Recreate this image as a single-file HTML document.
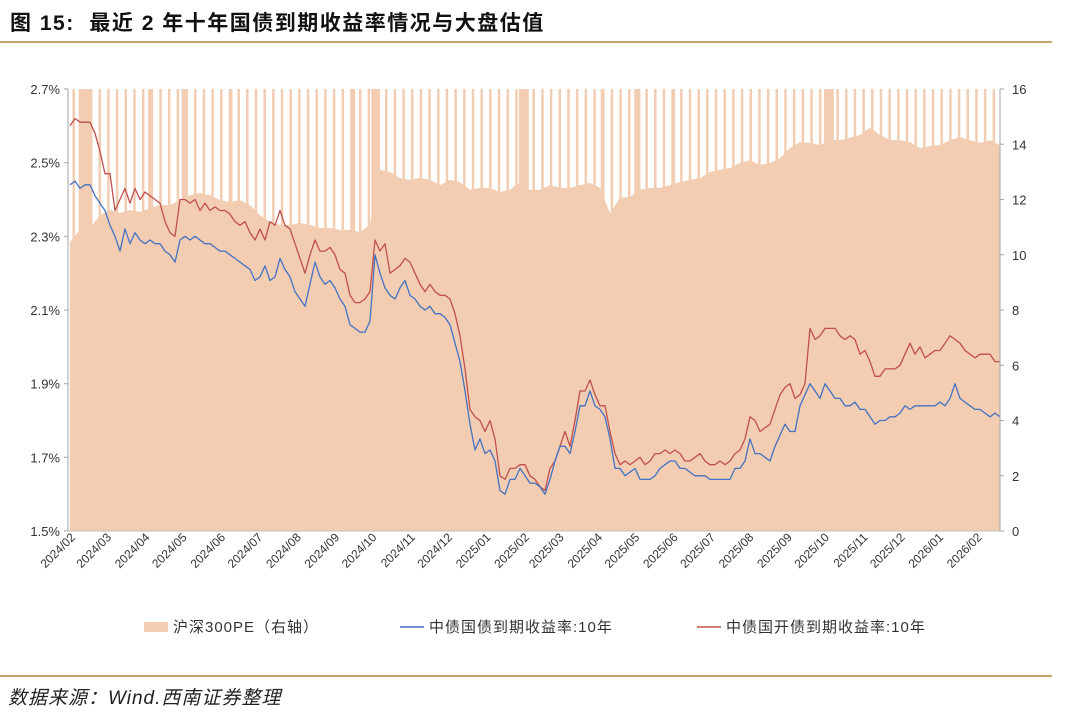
<!DOCTYPE html>
<html><head><meta charset="utf-8">
<style>
body{margin:0;background:#fff;width:1080px;height:715px;overflow:hidden;font-family:"Liberation Sans","Noto Sans CJK SC",sans-serif;}
.title{position:absolute;left:10px;top:7px;font-size:21px;letter-spacing:1.5px;font-weight:bold;color:#111;}
.rule{position:absolute;left:0;width:1052px;height:2px;background:#c9a46a;}
.src{position:absolute;left:8px;top:683px;font-size:19px;letter-spacing:1px;font-style:italic;color:#222;}
svg{position:absolute;left:0;top:0;}
</style></head><body>
<div class="title">图 15:&nbsp; 最近 2 年十年国债到期收益率情况与大盘估值</div>
<div class="rule" style="top:41px"></div>
<svg id="chart" width="1080" height="715"></svg>
<div class="rule" style="top:675px"></div>
<div class="src">数据来源：Wind.西南证券整理</div>
<script>
const startDate = "2024-02-01";
const endDate = "2026-02-20";
const monthLabels = ["2024/02","2024/03","2024/04","2024/05","2024/06","2024/07","2024/08","2024/09","2024/10","2024/11","2024/12","2025/01","2025/02","2025/03","2025/04","2025/05","2025/06","2025/07","2025/08","2025/09","2025/10","2025/11","2025/12","2026/01","2026/02"];
const leftTicks = [1.5,1.7,1.9,2.1,2.3,2.5,2.7];
const rightTicks = [0,2,4,6,8,10,12,14,16];
const holidays = [["2024-02-08","2024-02-18"],["2024-04-04","2024-04-07"],["2024-05-01","2024-05-05"],["2024-06-08","2024-06-10"],["2024-09-15","2024-09-17"],["2024-10-01","2024-10-07"],["2025-01-28","2025-02-04"],["2025-04-04","2025-04-06"],["2025-05-01","2025-05-05"],["2025-05-31","2025-06-02"],["2025-10-01","2025-10-08"]];
const peValues = [10.46,10.9,10.97,11.44,11.62,11.51,11.62,11.55,11.69,11.8,11.8,11.98,12.16,12.24,12.16,11.98,11.91,11.98,11.8,11.44,11.19,11.08,11.08,11.15,11.08,10.97,10.97,10.9,10.9,10.82,11.08,13.07,13.0,12.78,12.71,12.78,12.71,12.52,12.71,12.63,12.35,12.42,12.42,12.27,12.35,12.63,12.35,12.35,12.52,12.42,12.42,12.52,12.6,12.42,11.5,12.07,12.09,12.35,12.42,12.42,12.52,12.63,12.71,12.78,13.0,13.07,13.14,13.32,13.43,13.25,13.32,13.5,13.86,14.08,14.05,13.97,14.15,14.15,14.23,14.34,14.6,14.34,14.15,14.15,14.08,13.86,13.94,13.97,14.15,14.26,14.15,14.05,14.15,13.97];
const cgbYield = [2.44,2.45,2.43,2.44,2.44,2.41,2.39,2.37,2.33,2.30,2.26,2.32,2.28,2.31,2.29,2.28,2.29,2.28,2.28,2.26,2.25,2.23,2.29,2.30,2.29,2.30,2.29,2.28,2.28,2.27,2.26,2.26,2.25,2.24,2.23,2.22,2.21,2.18,2.19,2.22,2.18,2.19,2.24,2.21,2.19,2.15,2.13,2.11,2.17,2.23,2.19,2.17,2.18,2.16,2.13,2.11,2.06,2.05,2.04,2.04,2.07,2.25,2.20,2.16,2.14,2.13,2.16,2.18,2.14,2.13,2.11,2.10,2.11,2.09,2.09,2.08,2.06,2.01,1.96,1.88,1.79,1.72,1.75,1.71,1.72,1.69,1.61,1.60,1.64,1.64,1.67,1.65,1.63,1.63,1.62,1.60,1.64,1.69,1.73,1.73,1.71,1.77,1.84,1.84,1.88,1.84,1.83,1.81,1.75,1.67,1.67,1.65,1.66,1.67,1.64,1.64,1.64,1.65,1.67,1.68,1.69,1.69,1.67,1.67,1.66,1.65,1.65,1.65,1.64,1.64,1.64,1.64,1.64,1.67,1.67,1.69,1.75,1.71,1.71,1.70,1.69,1.73,1.76,1.79,1.77,1.77,1.84,1.87,1.90,1.88,1.86,1.90,1.88,1.86,1.86,1.84,1.84,1.85,1.83,1.83,1.81,1.79,1.80,1.80,1.81,1.81,1.82,1.84,1.83,1.84,1.84,1.84,1.84,1.84,1.85,1.84,1.86,1.90,1.86,1.85,1.84,1.83,1.83,1.82,1.81,1.82,1.81];
const cdbYield = [2.60,2.62,2.61,2.61,2.61,2.58,2.53,2.47,2.47,2.37,2.40,2.43,2.39,2.43,2.40,2.42,2.41,2.40,2.39,2.34,2.31,2.30,2.40,2.40,2.39,2.40,2.37,2.39,2.37,2.38,2.37,2.37,2.36,2.34,2.33,2.34,2.31,2.29,2.32,2.29,2.34,2.33,2.37,2.33,2.32,2.28,2.24,2.20,2.25,2.29,2.26,2.26,2.27,2.25,2.21,2.20,2.14,2.12,2.12,2.13,2.15,2.29,2.26,2.28,2.20,2.21,2.22,2.24,2.23,2.20,2.17,2.15,2.17,2.15,2.14,2.14,2.13,2.09,2.03,1.94,1.83,1.81,1.80,1.77,1.80,1.75,1.65,1.64,1.67,1.67,1.68,1.68,1.65,1.64,1.62,1.61,1.67,1.69,1.73,1.77,1.73,1.80,1.88,1.88,1.91,1.87,1.84,1.84,1.77,1.71,1.68,1.69,1.68,1.69,1.70,1.68,1.69,1.71,1.71,1.72,1.71,1.72,1.71,1.69,1.69,1.70,1.71,1.69,1.68,1.68,1.69,1.68,1.69,1.71,1.72,1.75,1.81,1.80,1.77,1.78,1.79,1.83,1.87,1.89,1.90,1.86,1.87,1.90,2.05,2.02,2.03,2.05,2.05,2.05,2.03,2.02,2.03,2.02,1.98,1.99,1.96,1.92,1.92,1.94,1.94,1.94,1.95,1.98,2.01,1.98,2.00,1.97,1.98,1.99,1.99,2.01,2.03,2.02,2.01,1.99,1.98,1.97,1.98,1.98,1.98,1.96,1.96];

const NS="http://www.w3.org/2000/svg";
const svg=document.getElementById('chart');
const X0=70,X1=1000,YT=89,YB=531,AXL=68,AXR=1000;
const PEACH="#f2cdb1";
const DAY=86400000;
const d0=Date.parse(startDate), d1=Date.parse(endDate);
function xDate(s){return X0+(Date.parse(s)-d0)/(d1-d0)*(X1-X0);}
function xIdx(i,n){return X0+i*(X1-X0)/(n-1);}
function yL(v){return YB-(v-1.5)/1.2*(YB-YT);}
function yR(v){return YB-v/16*(YB-YT);}
function mk(tag,attrs){const e=document.createElementNS(NS,tag);for(const k in attrs)e.setAttribute(k,attrs[k]);svg.appendChild(e);return e;}

const gSp=document.createElementNS(NS,'g');svg.appendChild(gSp);


const pxDay=(X1-X0)/((d1-d0)/DAY);
for(let t=d0;t<=d1;t+=DAY){
  const wd=new Date(t).getUTCDay();
  if(wd===6){
    const r=document.createElementNS(NS,'rect');
    const x=X0+(t-d0)/DAY*pxDay;
    r.setAttribute('x',x);r.setAttribute('y',YT);r.setAttribute('width',Math.min(2*pxDay,X1-x));r.setAttribute('height',YB-YT);r.setAttribute('fill',PEACH);
    
    
    gSp.appendChild(r);
  }
}
holidays.forEach(h=>{
  const r=document.createElementNS(NS,'rect');
  const a=xDate(h[0]),b=xDate(h[1])+pxDay;
  r.setAttribute('x',a);r.setAttribute('y',YT);r.setAttribute('width',b-a);r.setAttribute('height',YB-YT);r.setAttribute('fill',PEACH);
  
  
  gSp.appendChild(r);
});

let d='M'+X0+','+YB;
peValues.forEach((v,i)=>{d+=' L'+xIdx(i,peValues.length).toFixed(1)+','+yR(v).toFixed(1);});
d+=' L'+X1+','+YB+' Z';
const area=mk('path',{d:d,fill:PEACH});



function line(arr,color,name){
  let p='';arr.forEach((v,i)=>{p+=(i?' L':'M')+xIdx(i,arr.length).toFixed(1)+','+yL(v).toFixed(1);});
  const e=mk('path',{d:p,fill:'none',stroke:color,'stroke-width':1.3,'stroke-linejoin':'round'});
  
  
}
line(cdbYield,'#c0504d','cdb-yield-line');
line(cgbYield,'#4472c4','cgb-yield-line');

const la=mk('line',{x1:AXL,y1:YT,x2:AXL,y2:YB,stroke:'#a6a6a6','stroke-width':1});


const ra=mk('line',{x1:AXR,y1:YT,x2:AXR,y2:YB,stroke:'#a6a6a6','stroke-width':1});


const ba=mk('line',{x1:AXL,y1:YB,x2:AXR,y2:YB,stroke:'#bfbfbf','stroke-width':1});


leftTicks.forEach(v=>{
  const y=yL(v);
  mk('line',{x1:AXL-4,y1:y,x2:AXL,y2:y,stroke:'#a6a6a6'});
  const t=mk('text',{x:AXL-8,y:y+5,'text-anchor':'end','font-size':13,fill:'#333'});
  t.textContent=v.toFixed(1)+'%';
  
  
});
rightTicks.forEach(v=>{
  const y=yR(v);
  mk('line',{x1:AXR,y1:y,x2:AXR+4,y2:y,stroke:'#a6a6a6'});
  const t=mk('text',{x:AXR+12,y:y+5,'text-anchor':'start','font-size':13,fill:'#333'});
  t.textContent=v;
  
  
});
monthLabels.forEach(m=>{
  const x=xDate(m.replace('/','-')+'-01')+6;
  const t=mk('text',{x:x,y:538,'text-anchor':'end','font-size':12,fill:'#333',transform:'rotate(-45 '+x+' 538)'});
  t.textContent=m;
  
  
});

const l1=mk('rect',{x:144,y:622,width:24,height:10,fill:PEACH});


const t1=mk('text',{x:173,y:632,'font-size':15,'letter-spacing':1,fill:'#333'});t1.textContent='沪深300PE（右轴）';


const l2=mk('line',{x1:400,y1:627,x2:424,y2:627,stroke:'#4472c4','stroke-width':1.5});


const t2=mk('text',{x:429,y:632,'font-size':15,'letter-spacing':1,fill:'#333'});t2.textContent='中债国债到期收益率:10年';


const l3=mk('line',{x1:697,y1:627,x2:721,y2:627,stroke:'#c0504d','stroke-width':1.5});


const t3=mk('text',{x:726,y:632,'font-size':15,'letter-spacing':1,fill:'#333'});t3.textContent='中债国开债到期收益率:10年';


</script>
</body></html>
